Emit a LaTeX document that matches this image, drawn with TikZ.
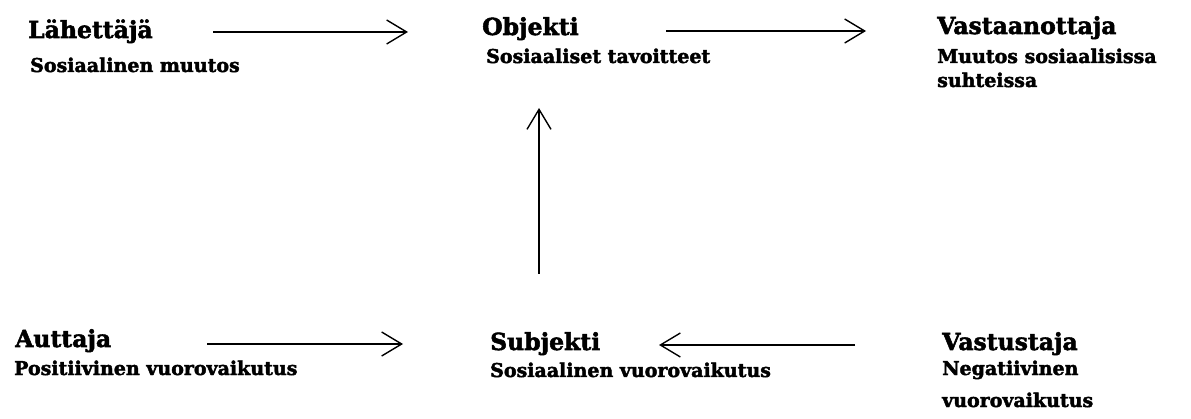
\documentclass[tikz,border=0pt]{standalone}
\usepackage{fontspec}
\setmainfont{DejaVu Serif}[BoldFeatures={FakeBold=2.2}]
\usetikzlibrary{arrows.meta,calc}
\begin{document}
\begin{tikzpicture}[x=1pt,y=-1pt,
  title/.style={anchor=base west,inner sep=0pt,font=\fontsize{23.5}{26}\selectfont\bfseries},
  sub/.style={anchor=base west,inner sep=0pt,font=\fontsize{19}{22}\selectfont\bfseries},
  arr/.style={line width=2.6pt,-{Straight Barb[length=20pt,width=24pt,line width=1.4pt]}}]
\fill[white] (0,0) rectangle (1191,419);
\useasboundingbox (0,0) rectangle (1191,419);
% top row
\node[title] (lah) at (28,38) {Lähettäjä};
\node[sub] (lahs) at (30,72) {Sosiaalinen muutos};
\node[title] (obj) at (482,35) {Objekti};
\node[sub] (objs) at (486,63) {Sosiaaliset tavoitteet};
\node[title] (vas) at (937,34) {Vastaanottaja};
\node[sub] (vass) at (937,63) {Muutos sosiaalisissa};
\node[sub] (vass2) at (937,87) {suhteissa};
% bottom row
\node[title] (aut) at (15,347) {Auttaja};
\node[sub] (auts) at (14,375) {Positiivinen vuorovaikutus};
\node[title] (sub) at (490,350) {Subjekti};
\node[sub] (subs) at (490,377) {Sosiaalinen vuorovaikutus};
\node[title] (vst) at (942,350) {Vastustaja};
\node[sub] (vsts) at (942,375) {Negatiivinen};
\node[sub] (vsts2) at (942,407) {vuorovaikutus};
% arrows
\draw[arr] ($(lah.base west)+(185,-6)$) -- ($(obj.base west)+(-74,-3)$);
\draw[arr] ($(obj.base west)+(184,-4)$) -- ($(vas.base west)+(-71,-3)$);
\draw[arr] ($(sub.base west)+(49,-76)$) -- ($(objs.base west)+(53,45)$);
\draw[arr] ($(aut.base west)+(192,-3)$) -- ($(sub.base west)+(-87,-6)$);
\draw[arr] ($(vst.base west)+(-87,-5)$) -- ($(sub.base west)+(169,-5)$);
\end{tikzpicture}
\end{document}
